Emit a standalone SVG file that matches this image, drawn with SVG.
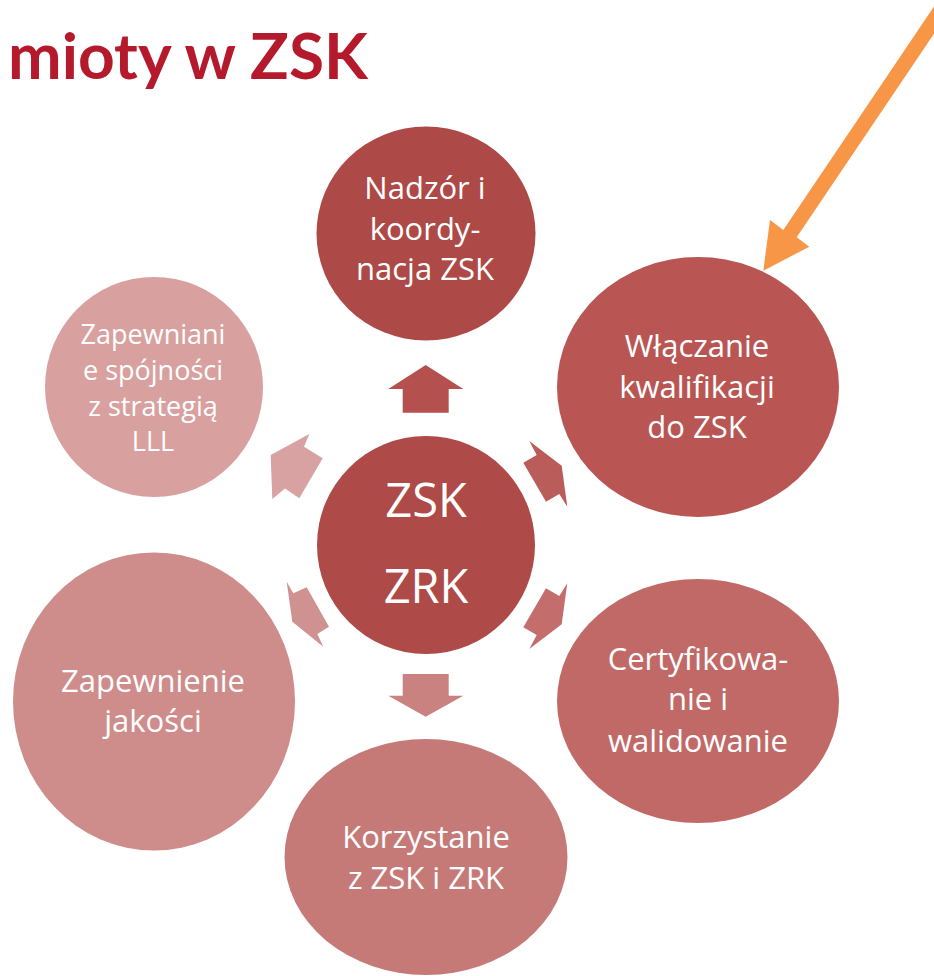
<svg xmlns="http://www.w3.org/2000/svg" width="934" height="976" viewBox="0 0 934 976">
<style>
.t{font-family:"Open Sans","Liberation Sans",sans-serif;fill:#FFFFFF;text-anchor:middle}
.n{font-size:31px}
.s{font-size:27px}
.c{font-size:47px}
.title{font-family:Lato,"Open Sans","Liberation Sans",sans-serif;font-weight:bold;font-size:64px;fill:#B41A2C}
</style>
<rect width="934" height="976" fill="#FFFFFF"/>
<text class="title" x="8" y="79" textLength="360" lengthAdjust="spacingAndGlyphs">mioty w ZSK</text>
<g id="connectors">
<polygon fill="#B4504D" points="388.3,389 425.7,365 463.3,389 448.7,389 448.7,412.7 402.7,412.7 402.7,389"/>
<polygon fill="#BA5C59" points="529.3,441 561.7,465.7 567.3,506.7 559.3,494 546,501.7 523.3,462.7 536.7,455"/>
<polygon fill="#C36E6C" points="529.3,649 561.7,624.3 567.3,583.3 559.3,596 546,588.3 523.3,627.3 536.7,635"/>
<polygon fill="#C98280" points="402.7,674 448.7,674 448.7,695.7 463.3,695.7 425.7,716.7 388.3,695.7 402.7,695.7"/>
<polygon fill="#CF9291" points="286.7,581.7 293.3,593.3 306.7,587.3 329,626.7 317.3,634 323.3,646.7 292.3,621.7"/>
<polygon fill="#D7A2A1" points="309.3,434 304,446.7 322.7,458.3 299.3,498.3 285,488.5 272.3,499 270.7,455"/>
<polygon fill="#F79646" points="763.3,270.7 770,220 783.3,230 951,-18.7 964.4,-11.4 796.7,237.3 809.3,246.7"/>
</g>
<g id="node-center">
<circle cx="426" cy="545" r="109" fill="#AE4A47"/>
<text class="t c" x="426" y="517">ZSK</text>
<text class="t c" x="426" y="603">ZRK</text>
</g>
<g id="node-nadzor">
<ellipse cx="426" cy="233.5" rx="109.5" ry="107" fill="#AD4946"/>
<text class="t n" x="425" y="199">Nadzór i</text>
<text class="t n" x="425" y="240">koordy-</text>
<text class="t n" x="425" y="280">nacja ZSK</text>
</g>
<g id="node-wlaczanie">
<ellipse cx="698" cy="387" rx="141" ry="130" fill="#B95654"/>
<text class="t n" x="697" y="357">Włączanie</text>
<text class="t n" x="697" y="398">kwalifikacji</text>
<text class="t n" x="697" y="438">do ZSK</text>
</g>
<g id="node-certyfikowanie">
<ellipse cx="698" cy="701" rx="141" ry="122" fill="#C16967"/>
<text class="t n" x="698" y="670">Certyfikowa-</text>
<text class="t n" x="698" y="710">nie i</text>
<text class="t n" x="698" y="752">walidowanie</text>
</g>
<g id="node-korzystanie">
<ellipse cx="426" cy="857" rx="141.5" ry="118" fill="#C67A78"/>
<text class="t n" x="426" y="848">Korzystanie</text>
<text class="t n" x="426" y="889">z ZSK i ZRK</text>
</g>
<g id="node-jakosc">
<ellipse cx="154" cy="701.5" rx="141" ry="149" fill="#CE8C8B"/>
<text class="t n" x="153" y="692">Zapewnienie</text>
<text class="t n" x="153" y="732">jakości</text>
</g>
<g id="node-spojnosc">
<ellipse cx="154" cy="387" rx="109" ry="110" fill="#D8A1A0"/>
<text class="t s" x="153" y="344">Zapewniani</text>
<text class="t s" x="153" y="380">e spójności</text>
<text class="t s" x="153" y="416">z strategią</text>
<text class="t s" x="153" y="451">LLL</text>
</g>
</svg>
